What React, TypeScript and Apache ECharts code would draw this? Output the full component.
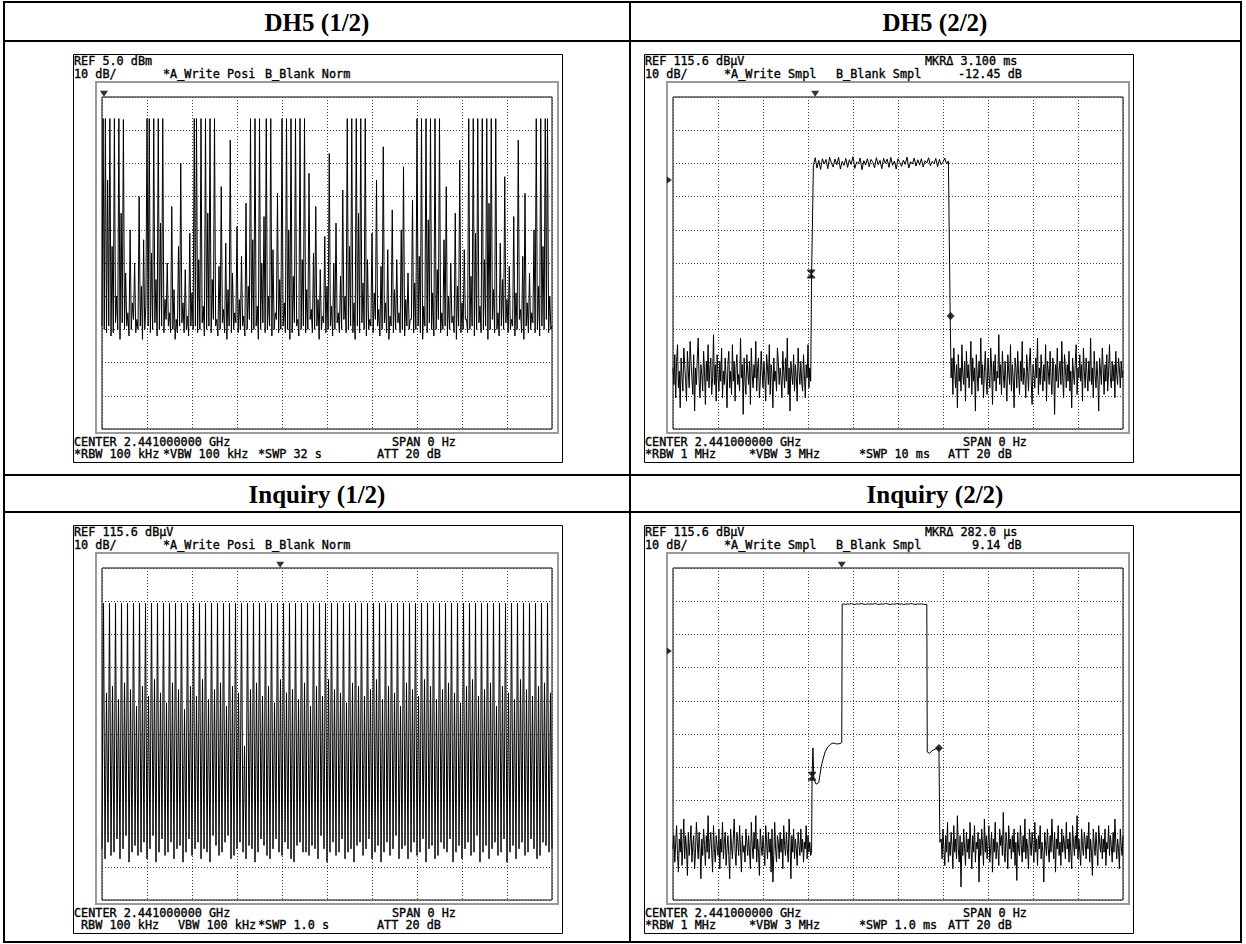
import React, { useEffect, useRef } from "react";
import * as echarts from "echarts";

// ---------------- DATA ----------------
const PANEL_TITLES = ["DH5 (1/2)", "DH5 (2/2)", "Inquiry (1/2)", "Inquiry (2/2)"];

// DH5 (1/2) : REF 5.0 dBm, 10 dB/div, sweep 32 s (positive peak)
const DH5A_REF = 5.0;
const DH5A_SWEEP = 32;
const DH5A_STEP = 0.08;
const DH5A_LEVEL = [
  -64, -1.5, -65, -1.5, -66, -20, -64, -1.5, -67, -40, -66, -1.5, -63, -55, -65, -1.5, -68, -30, -63, -1.8,
  -65, -48, -64, -60, -67, -35, -65, -57, -62, -45, -66, -62, -65, -25, -64, -52, -68, -38, -65, -58,
  -1.5, -64, -1.5, -66, -42, -65, -1.5, -63, -50, -67, -1.5, -65, -33, -64, -1.5, -66, -56, -62, -45, -64,
  -60, -66, -28, -65, -53, -68, -62, -66, -40, -64, -15, -63, -57, -66, -47, -65, -61, -67, -36, -64,
  -54, -65, -1.5, -64, -1.5, -66, -44, -65, -1.5, -63, -58, -67, -1.5, -65, -30, -64, -1.5, -66, -50, -62,
  -1.5, -64, -62, -67, -46, -65, -22, -63, -59, -66, -39, -68, -53, -64, -8, -66, -48, -65, -60, -63,
  -34, -66, -56, -65, -43, -64, -61, -67, -27, -65, -52, -62, -1.5, -66, -38, -65, -1.5, -64, -58, -68,
  -1.5, -65, -45, -63, -31, -66, -1.5, -65, -55, -64, -1.5, -67, -41, -65, -60, -62, -24, -66, -50, -65,
  -1.5, -64, -57, -66, -1.5, -65, -35, -68, -1.5, -66, -49, -63, -1.5, -64, -62, -67, -1.5, -65, -44, -64,
  -1.5, -66, -53, -65, -18, -62, -59, -66, -42, -65, -28, -64, -56, -68, -47, -65, -61, -63, -37, -66,
  -52, -65, -12, -64, -58, -67, -45, -65, -33, -63, -60, -66, -49, -65, -23, -62, -55, -66, -1.5, -65,
  -40, -64, -1.5, -66, -57, -68, -1.5, -64, -30, -66, -1.5, -63, -51, -65, -1.5, -67, -44, -65, -62, -64,
  -36, -66, -54, -62, -20, -64, -59, -67, -46, -65, -10, -63, -57, -66, -41, -68, -61, -64, -29, -66,
  -53, -65, -44, -63, -60, -66, -35, -65, -16, -67, -56, -64, -48, -65, -62, -62, -26, -66, -51, -65,
  -1.5, -64, -43, -66, -1.5, -68, -58, -64, -1.5, -66, -32, -63, -1.5, -65, -54, -67, -1.5, -65, -47, -62,
  -1.5, -66, -60, -65, -38, -64, -22, -67, -55, -65, -45, -63, -61, -66, -30, -68, -52, -64, -14, -66,
  -57, -65, -41, -62, -62, -66, -1.5, -65, -49, -64, -1.5, -67, -36, -65, -1.5, -63, -58, -66, -1.5, -65,
  -44, -64, -1.5, -68, -27, -65, -1.5, -62, -53, -66, -1.5, -65, -60, -67, -39, -64, -50, -65, -19, -63,
  -56, -66, -46, -65, -62, -64, -31, -67, -54, -65, -8, -62, -59, -66, -43, -68, -24, -64, -57, -66,
  -48, -65, -60, -63, -35, -66, -1.5, -65, -52, -67, -1.5, -64, -40, -65, -1.5, -62, -1.5, -66, -55, -65,
  -64,
];
const DH5A_TOP_MARKER = 0.14;

// DH5 (2/2) : REF 115.6 dBuV, sweep 10 ms (sample), time in ms
const DH5B_REF = 115.6;
const DH5B_SWEEP = 10;
const DH5B_NOISE_STEP = 0.02;
const DH5B_NOISE_BEFORE = [
  34, 29, 38, 25, 36, 41, 28, 33, 22, 37, 31, 27, 40, 35, 30, 24, 39, 33, 28, 42,
  36, 31, 26, 38, 21, 34, 29, 37, 43, 30, 25, 35, 32, 27, 39, 33, 23, 36, 30, 41,
  28, 34, 37, 26, 31, 44, 29, 35, 24, 38, 32, 27, 36, 30, 40, 25, 33, 29, 37, 31,
  22, 35, 39, 28, 33, 26, 41, 30, 36, 24, 34, 38, 29, 32, 27, 43, 31, 35, 20, 37,
  30, 26, 38, 33, 29, 36, 23, 40, 32, 28, 35, 31, 42, 27, 34, 37, 25, 30, 39, 33,
  28, 36, 31, 24, 38, 34, 29, 41, 26, 35, 32, 22, 37, 30, 33, 27, 40, 36, 29, 34,
  31, 25, 39, 33, 28, 37, 30, 43, 26, 34, 21, 36, 32, 29, 38, 27, 35, 31, 24, 40,
  33, 29, 36, 30, 27, 38, 32, 25, 35, 31, 41, 28, 34, 30,
];
const DH5B_RISE = [[3.08, 62.3]];
const DH5B_ON_START = 3.12;
const DH5B_ON_STEP = 0.04;
const DH5B_ON = [
  95.0, 97.3, 94.2, 96.5, 93.8, 97.0, 95.4, 96.8, 94.0, 97.5, 95.7, 94.5, 96.9, 95.2, 97.4, 93.9, 96.2, 95.0, 97.1, 94.4,
  96.7, 95.3, 97.6, 94.1, 96.0, 95.5, 97.2, 93.7, 96.4, 95.1, 97.0, 94.6, 96.8, 95.9, 94.3, 97.3, 95.2, 96.5, 94.0, 97.1,
  95.6, 96.9, 94.4, 97.4, 95.0, 96.3, 93.9, 97.0, 95.8, 94.7, 96.6, 95.3, 97.5, 94.2, 96.1, 95.4, 97.2, 94.8, 96.7, 95.1,
  97.0, 94.5, 96.4, 95.7, 97.3, 94.9, 96.2, 95.5, 97.1, 94.6, 96.8, 95.2, 96.0, 97.2, 95.4, 96.3,
];
const DH5B_FALL = [[6.16, 49.6]];
const DH5B_AFTER_START = 6.18;
const DH5B_NOISE_AFTER = [
  31, 37, 26, 40, 33, 28, 35, 22, 38, 30, 34, 27, 41, 32, 29, 36, 24, 39, 31, 35,
  28, 33, 42, 26, 37, 30, 34, 21, 38, 32, 27, 36, 31, 43, 29, 35, 25, 33, 39, 30,
  26, 37, 32, 28, 40, 34, 23, 36, 30, 38, 27, 33, 31, 44, 29, 35, 26, 39, 32, 28,
  36, 30, 24, 38, 33, 29, 41, 27, 35, 31, 22, 37, 34, 28, 39, 32, 26, 36, 30, 42,
  29, 34, 31, 25, 38, 33, 27, 36, 40, 30, 23, 35, 32, 28, 37, 31, 43, 26, 34, 29,
  38, 32, 27, 35, 30, 41, 24, 36, 33, 29, 39, 31, 26, 37, 34, 20, 35, 30, 40, 28,
  33, 36, 29, 42, 31, 25, 38, 34, 28, 35, 30, 39, 27, 33, 22, 37, 32, 29, 36, 41,
  26, 34, 31, 38, 30, 35, 24, 40, 33, 28, 37, 32, 27, 36, 30, 43, 29, 34, 25, 39,
  32, 28, 36, 31, 21, 37, 33, 29, 40, 34, 26, 35, 30, 38, 27, 33, 41, 31, 28, 36,
  30, 35, 25, 39, 32, 29, 37, 34, 28, 36, 31, 33,
];
const DH5B_MARKER_REF = [3.07, 62.3];
const DH5B_MARKER_DELTA = [6.17, 49.6];
const DH5B_TOP_MARKER = 3.16;

// Inquiry (1/2) : REF 115.6 dBuV, sweep 1.0 s (positive peak)
const INQA_REF = 115.6;
const INQA_SWEEP = 1.0;
const INQA_STEP = 1 / 300;
const INQA_LEVEL = [
  31, 105, 28, 78, 33, 105, 29, 80, 30, 105, 34, 76, 28, 105, 31, 81, 35, 105, 27, 79,
  30, 105, 32, 74, 29, 105, 30, 80, 33, 105, 28, 77, 31, 105, 35, 82, 27, 105, 30, 78,
  34, 105, 29, 75, 30, 105, 33, 81, 28, 105, 31, 79, 32, 105, 27, 73, 30, 105, 34, 80,
  29, 105, 31, 77, 33, 105, 28, 82, 31, 105, 30, 76, 27, 105, 35, 79, 32, 105, 29, 81,
  30, 105, 33, 74, 35, 105, 28, 80, 29, 105, 31, 78, 33, 105, 30, 62, 28, 105, 32, 79,
  31, 105, 27, 81, 30, 105, 34, 77, 32, 105, 29, 80, 28, 105, 31, 75, 34, 105, 30, 82,
  29, 105, 33, 78, 31, 105, 28, 79, 27, 105, 32, 76, 33, 105, 30, 81, 30, 105, 29, 74,
  32, 105, 31, 80, 28, 105, 35, 77, 31, 105, 27, 82, 30, 105, 33, 79, 29, 105, 30, 78,
  34, 105, 28, 75, 30, 105, 31, 81, 27, 105, 32, 80, 33, 105, 29, 77, 31, 105, 34, 79,
  28, 105, 30, 82, 32, 105, 27, 76, 30, 105, 33, 80, 29, 105, 31, 78, 35, 105, 28, 74,
  31, 105, 32, 81, 28, 105, 30, 79, 33, 105, 29, 77, 30, 105, 34, 82, 27, 105, 31, 80,
  32, 105, 28, 76, 29, 105, 33, 79, 31, 105, 30, 81, 34, 105, 27, 78, 30, 105, 32, 75,
  28, 105, 31, 80, 33, 105, 29, 82, 30, 105, 35, 77, 27, 105, 30, 79, 32, 105, 28, 81,
  31, 105, 33, 74, 29, 105, 30, 80, 34, 105, 27, 78, 30, 105, 32, 76, 28, 105, 31, 82,
  33, 105, 29, 79, 30, 105, 34, 77, 31, 105, 28, 80, 29, 105, 33, 81, 32, 105, 30, 78,
  31,
];
const INQA_TOP_MARKER = 0.396;

// Inquiry (2/2) : REF 115.6 dBuV, sweep 1.0 ms (sample), time in us
const INQB_REF = 115.6;
const INQB_SWEEP = 1000;
const INQB_NOISE_STEP = 2;
const INQB_NOISE_BEFORE = [
  31, 35, 27, 33, 38, 29, 24, 34, 30, 37, 26, 32, 40, 28, 35, 31, 23, 36, 29, 33,
  38, 27, 32, 35, 25, 30, 39, 33, 28, 36, 31, 22, 34, 29, 37, 32, 26, 35, 30, 41,
  28, 33, 36, 30, 24, 38, 31, 27, 35, 32, 29, 37, 25, 34, 30, 39, 28, 33, 36, 26,
  31, 35, 29, 22, 37, 32, 28, 34, 40, 30, 26, 36, 33, 29, 38, 31, 24, 35, 30, 32,
  27, 37, 33, 29, 35, 30, 25, 39, 32, 28, 36, 31, 41, 27, 34, 30, 23, 37, 32, 29,
  35, 31, 26, 38, 33, 28, 36, 30, 34, 24, 37, 21, 29, 39, 31, 27, 35, 33, 28, 36,
  30, 34, 25, 38, 32, 29, 36, 31, 27, 40, 33, 22, 35, 30, 37, 28, 34, 31, 26, 36,
  32, 29, 37, 30, 34, 27, 33, 31, 38, 28, 35, 30, 33, 29,
];
const INQB_RISE = [
  [308, 30], [309, 53], [311, 61.4], [313, 52], [318, 50.5], [324, 51], [329, 55.5],
  [333, 57.8], [338, 60.2], [344, 61.7], [350, 62.5], [356, 62.9], [363, 62.6], [371, 62.7], [375, 63.0],
];
const INQB_ON_START = 376;
const INQB_ON_STEP = 4;
const INQB_ON = [
  104.7, 104.8, 104.6, 104.8, 104.7, 104.9, 104.7, 104.6, 104.8, 104.7,
  104.8, 104.9, 104.7, 104.6, 104.8, 104.7, 104.8, 104.7, 104.9, 104.8,
  104.6, 104.7, 104.8, 104.7, 104.9, 104.8, 104.7, 104.6, 104.8, 104.7,
  104.8, 104.9, 104.7, 104.8, 104.6, 104.7, 104.8, 104.7, 104.9, 104.8,
  104.7, 104.6, 104.8, 104.7, 104.8, 104.7, 104.6,
];
const INQB_FALL = [
  [564, 104.7], [565, 60.2], [570, 59.8], [576, 60.6], [582, 61.0], [587, 61.3], [591, 61.4], [593, 33],
];
const INQB_AFTER_START = 596;
const INQB_NOISE_AFTER = [
  34, 28, 37, 31, 26, 35, 30, 39, 27, 33, 29, 36, 32, 25, 38, 30, 34, 28, 41, 31,
  27, 35, 19.5, 33, 29, 37, 31, 26, 36, 30, 34, 28, 39, 32, 25, 35, 30, 38, 27, 33,
  31, 36, 21, 34, 29, 37, 32, 26, 40, 30, 35, 28, 33, 38, 27, 31, 36, 24, 34, 30,
  39, 28, 33, 31, 26, 37, 32, 35, 29, 42, 30, 27, 36, 33, 25, 38, 31, 34, 28, 35,
  30, 37, 26, 33, 21.5, 36, 31, 29, 38, 32, 27, 35, 30, 40, 28, 34, 31, 25, 37, 33,
  29, 36, 32, 27, 39, 30, 34, 26, 35, 31, 38, 28, 33, 30, 21, 36, 32, 29, 37, 31,
  27, 35, 30, 40, 33, 28, 36, 24, 34, 31, 38, 29, 33, 26, 37, 30, 35, 32, 28, 39,
  31, 34, 27, 36, 30, 25, 38, 33, 29, 35, 31, 41, 28, 34, 30, 26, 37, 32, 29, 36,
  33, 28, 35, 31, 39, 27, 34, 30, 23, 37, 32, 29, 36, 31, 26, 38, 33, 30, 35, 28,
  34, 30, 37, 26, 33, 31, 38, 29, 35, 32, 27, 36, 30, 40, 33, 28, 34, 31, 25, 37,
  32, 29, 35,
];
const INQB_MARKER_REF = [309, 52.9];
const INQB_MARKER_DELTA = [591, 61.4];
const INQB_TOP_MARKER = 375;

const DISPLAY_LINE_REL = -25; // dB below REF (left-edge marker)

// Instrument annotation texts: [text, x offset in box]
const PANEL_TEXTS = [
  {
    top1: [["REF 5.0 dBm", 0]],
    top2: [["10 dB/", 0], ["*A_Write Posi", 89], ["B_Blank Norm", 191]],
    bot1: [["CENTER 2.441000000 GHz", 0], ["SPAN 0 Hz", 318]],
    bot2: [["*RBW 100 kHz", 0], ["*VBW 100 kHz", 89], ["*SWP 32 s", 184], ["ATT 20 dB", 303]],
  },
  {
    top1: [["REF 115.6 dBμV", 0], ["MKRΔ 3.100 ms", 280]],
    top2: [["10 dB/", 0], ["*A_Write Smpl", 79], ["B_Blank Smpl", 191], ["-12.45 dB", 313]],
    bot1: [["CENTER 2.441000000 GHz", 0], ["SPAN 0 Hz", 318]],
    bot2: [["*RBW 1 MHz", 0], ["*VBW 3 MHz", 104], ["*SWP 10 ms", 214], ["ATT 20 dB", 303]],
  },
  {
    top1: [["REF 115.6 dBμV", 0]],
    top2: [["10 dB/", 0], ["*A_Write Posi", 89], ["B_Blank Norm", 191]],
    bot1: [["CENTER 2.441000000 GHz", 0], ["SPAN 0 Hz", 318]],
    bot2: [["RBW 100 kHz", 7], ["VBW 100 kHz", 104], ["*SWP 1.0 s", 184], ["ATT 20 dB", 303]],
  },
  {
    top1: [["REF 115.6 dBμV", 0], ["MKRΔ 282.0 μs", 280]],
    top2: [["10 dB/", 0], ["*A_Write Smpl", 79], ["B_Blank Smpl", 191], ["9.14 dB", 327]],
    bot1: [["CENTER 2.441000000 GHz", 0], ["SPAN 0 Hz", 318]],
    bot2: [["*RBW 1 MHz", 0], ["*VBW 3 MHz", 104], ["*SWP 1.0 ms", 214], ["ATT 20 dB", 303]],
  },
];

// ---------------- LAYOUT ----------------
const BOXES = [
  { bx: 73, by: 54 },
  { bx: 644, by: 54 },
  { bx: 73, by: 525 },
  { bx: 644, by: 525 },
];
const BOX_W = 489;
const BOX_H = 408;
const PLOT_DX = 29;
const PLOT_DY = 43;
const PLOT_W = 450;
const PLOT_H = 332;
const MONO = '11.8px "DejaVu Sans Mono", monospace';
const HOURGLASS = "path://M0,0L10,0L10,1.5L5.8,5L10,8.5L10,10L0,10L0,8.5L4.2,5L0,1.5Z";
const DOWN_TRI = "path://M0,0L10,0L5,8Z";
const RIGHT_TRI = "path://M0,0L8,5L0,10Z";

const seg = (vals: number[], start: number, step: number) => vals.map((v, i) => [start + i * step, v]);

export default function App() {
  const ref = useRef<HTMLDivElement>(null);

  useEffect(() => {
    if (!ref.current) return;
    const chart = echarts.init(ref.current, undefined, { renderer: "svg" });

    const dh5a = seg(DH5A_LEVEL, 0, DH5A_STEP).map(([t, v]) => [t, v - DH5A_REF]);
    const dh5b = [
      ...seg(DH5B_NOISE_BEFORE, 0, DH5B_NOISE_STEP),
      ...DH5B_RISE,
      ...seg(DH5B_ON, DH5B_ON_START, DH5B_ON_STEP),
      ...DH5B_FALL,
      ...seg(DH5B_NOISE_AFTER, DH5B_AFTER_START, DH5B_NOISE_STEP),
    ].map(([t, v]) => [t, v - DH5B_REF]);
    const inqa = seg(INQA_LEVEL, 0, INQA_STEP).map(([t, v]) => [t, v - INQA_REF]);
    const inqb = [
      ...seg(INQB_NOISE_BEFORE, 0, INQB_NOISE_STEP),
      ...INQB_RISE,
      ...seg(INQB_ON, INQB_ON_START, INQB_ON_STEP),
      ...INQB_FALL,
      ...seg(INQB_NOISE_AFTER, INQB_AFTER_START, INQB_NOISE_STEP),
    ].map(([t, v]) => [t, v - INQB_REF]);

    const sweeps = [DH5A_SWEEP, DH5B_SWEEP, INQA_SWEEP, INQB_SWEEP];
    const traces = [dh5a, dh5b, inqa, inqb];
    const topMarkers = [DH5A_TOP_MARKER, DH5B_TOP_MARKER, INQA_TOP_MARKER, INQB_TOP_MARKER];

    const grids = BOXES.map((b) => ({
      left: b.bx + PLOT_DX,
      top: b.by + PLOT_DY,
      width: PLOT_W,
      height: PLOT_H,
      show: true,
      borderColor: "#000",
      borderWidth: 1,
      backgroundColor: "transparent",
    }));
    const split = { show: true, lineStyle: { color: "#444", width: 1, type: [1, 2] } };
    const xAxes = sweeps.map((s, i) => ({
      type: "value",
      gridIndex: i,
      min: 0,
      max: s,
      interval: s / 10,
      axisLine: { show: false },
      axisTick: { show: false },
      axisLabel: { show: false },
      splitLine: split,
    }));
    const yAxes = sweeps.map((_, i) => ({
      type: "value",
      gridIndex: i,
      min: -100,
      max: 0,
      interval: 10,
      axisLine: { show: false },
      axisTick: { show: false },
      axisLabel: { show: false },
      splitLine: split,
    }));

    const series: any[] = [];
    traces.forEach((d, i) => {
      series.push({
        type: "line",
        xAxisIndex: i,
        yAxisIndex: i,
        data: d,
        showSymbol: false,
        symbol: "none",
        silent: true,
        lineStyle: { color: "#000", width: 1 },
        z: 3,
      });
      series.push({
        type: "scatter",
        xAxisIndex: i,
        yAxisIndex: i,
        clip: false,
        silent: true,
        symbol: DOWN_TRI,
        symbolSize: [8, 6],
        itemStyle: { color: "#000" },
        data: [[topMarkers[i], 1.0]],
        z: 4,
      });
    });
    [[1, -0.08], [3, -8]].forEach(([i, x]) => {
      series.push({
        type: "scatter",
        xAxisIndex: i,
        yAxisIndex: i,
        clip: false,
        silent: true,
        symbol: RIGHT_TRI,
        symbolSize: [5, 7],
        itemStyle: { color: "#000" },
        data: [[x, DISPLAY_LINE_REL]],
        z: 4,
      });
    });
    const mk = [
      { i: 1, ref: DH5B_REF, a: DH5B_MARKER_REF, b: DH5B_MARKER_DELTA },
      { i: 3, ref: INQB_REF, a: INQB_MARKER_REF, b: INQB_MARKER_DELTA },
    ];
    mk.forEach((m) => {
      series.push({
        type: "scatter",
        xAxisIndex: m.i,
        yAxisIndex: m.i,
        silent: true,
        symbol: HOURGLASS,
        symbolSize: [8, 9],
        itemStyle: { color: "#000" },
        data: [[m.a[0], m.a[1] - m.ref]],
        z: 5,
      });
      series.push({
        type: "scatter",
        xAxisIndex: m.i,
        yAxisIndex: m.i,
        silent: true,
        symbol: "diamond",
        symbolSize: 8,
        itemStyle: { color: "#000" },
        data: [[m.b[0], m.b[1] - m.ref]],
        z: 5,
      });
    });

    const g: any[] = [];
    const line = (x1: number, y1: number, x2: number, y2: number) =>
      g.push({ type: "line", shape: { x1, y1, x2, y2 }, style: { stroke: "#000", lineWidth: 2 }, silent: true });
    g.push({
      type: "rect",
      shape: { x: 4, y: 2, width: 1237, height: 940 },
      style: { fill: "none", stroke: "#000", lineWidth: 2 },
      silent: true,
    });
    line(630, 2, 630, 942);
    line(4, 41, 1241, 41);
    line(4, 475, 1241, 475);
    line(4, 512, 1241, 512);
    const headerPos = [
      [317, 22],
      [935, 22],
      [317, 494],
      [935, 494],
    ];
    PANEL_TITLES.forEach((t, i) => {
      g.push({
        type: "text",
        silent: true,
        style: {
          text: t,
          x: headerPos[i][0],
          y: headerPos[i][1],
          textAlign: "center",
          textVerticalAlign: "middle",
          font: 'bold 25px "Liberation Serif", "Times New Roman", serif',
          fill: "#000",
        },
      });
    });
    BOXES.forEach((b, i) => {
      g.push({
        type: "rect",
        silent: true,
        shape: { x: b.bx + 0.5, y: b.by + 0.5, width: BOX_W, height: BOX_H },
        style: { fill: "none", stroke: "#000", lineWidth: 1 },
      });
      g.push({
        type: "rect",
        silent: true,
        shape: { x: b.bx + 23, y: b.by + 28, width: 462, height: 351 },
        style: { fill: "none", stroke: "#9a9a9a", lineWidth: 2 },
      });
      const T = PANEL_TEXTS[i];
      const rows: [any[], number][] = [
        [T.top1, 7],
        [T.top2, 20],
        [T.bot1, 388],
        [T.bot2, 400],
      ];
      rows.forEach(([items, dy]) => {
        items.forEach(([txt, dx]: [string, number]) => {
          g.push({
            type: "text",
            silent: true,
            style: {
              text: txt,
              x: b.bx + 1 + dx,
              y: b.by + dy,
              textAlign: "left",
              textVerticalAlign: "middle",
              font: MONO,
              fill: "#000",
              stroke: "#000",
              lineWidth: 0.35,
            },
          });
        });
      });
    });

    chart.setOption({
      animation: false,
      backgroundColor: "#fff",
      grid: grids,
      xAxis: xAxes,
      yAxis: yAxes,
      series,
      graphic: { elements: g },
    });

    return () => chart.dispose();
  }, []);

  return (
    <div
      ref={ref}
      style={{ position: "absolute", left: 0, top: 0, width: 1246, height: 944, background: "#fff" }}
    />
  );
}
